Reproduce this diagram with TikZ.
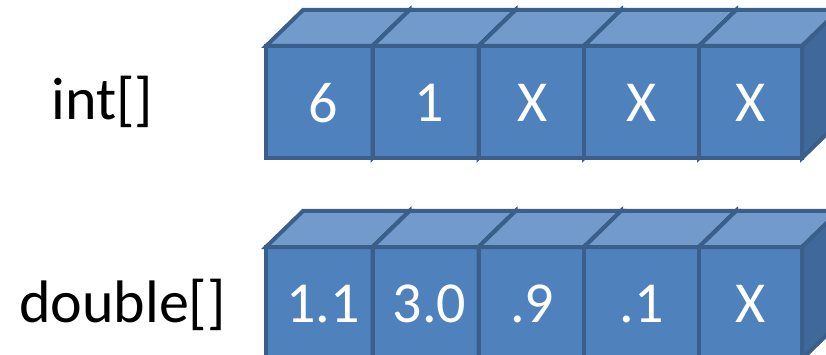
\documentclass[tikz,border=0pt]{standalone}
\usepackage{fontspec}
\setmainfont{Carlito}
\definecolor{frontc}{HTML}{4F81BD}
\definecolor{topc}{HTML}{729ACB}
\definecolor{sidec}{HTML}{41689A}
\definecolor{edgec}{HTML}{3A5F8B}
\newcommand\mycube[6]{%
  \pgfmathsetmacro\cw{#3-#2}%
  \node[cell,minimum width=\cw pt,anchor=north west] (#1) at (#2,#4) {};
  \node[celltext] (#1-t) at ([xshift=#6pt,yshift=-1pt]#1.center) {#5};
  \filldraw[face,fill=topc] (#1.north west) -- ++(37,-36) -- ++(\cw,0) -- (#1.north east) -- cycle;
  \filldraw[face,fill=sidec] (#1.north east) -- ++(37,-36) -- ++(0,112) -- (#1.south east) -- cycle;
}
\begin{document}
\begin{tikzpicture}[x=1pt,y=-1pt,
  face/.style={draw=edgec,line width=4pt,line join=miter},
  cell/.style={face,fill=frontc,minimum height=112pt,inner sep=0pt,outer sep=0pt},
  celltext/.style={text=white,inner sep=0pt,font=\fontsize{58}{60}\selectfont},
  lbl/.style={font=\fontsize{60}{62}\selectfont,anchor=base,inner sep=0pt}]
\useasboundingbox (0,0) rectangle (826,355);
\clip (0,0) rectangle (826,355);
% row 1
\mycube{a1}{266}{372.5}{46}{6}{4}
\mycube{a2}{372.5}{478.5}{46}{1}{4}
\mycube{a3}{478.5}{584}{46}{X}{1}
\mycube{a4}{584}{699}{46}{X}{0}
\mycube{a5}{699}{802}{46}{X}{0}
% row 2
\mycube{b1}{266}{372.5}{247}{1.1}{4}
\mycube{b2}{372.5}{478.5}{247}{3.0}{4}
\mycube{b3}{478.5}{584}{247}{.9}{1}
\mycube{b4}{584}{699}{247}{.1}{0}
\mycube{b5}{699}{802}{247}{X}{0}
% labels
\node[lbl] (lint) at (102.5,120) {int[]};
\node[lbl] (ldbl) at (122.5,322) {double[]};
\end{tikzpicture}
\end{document}
